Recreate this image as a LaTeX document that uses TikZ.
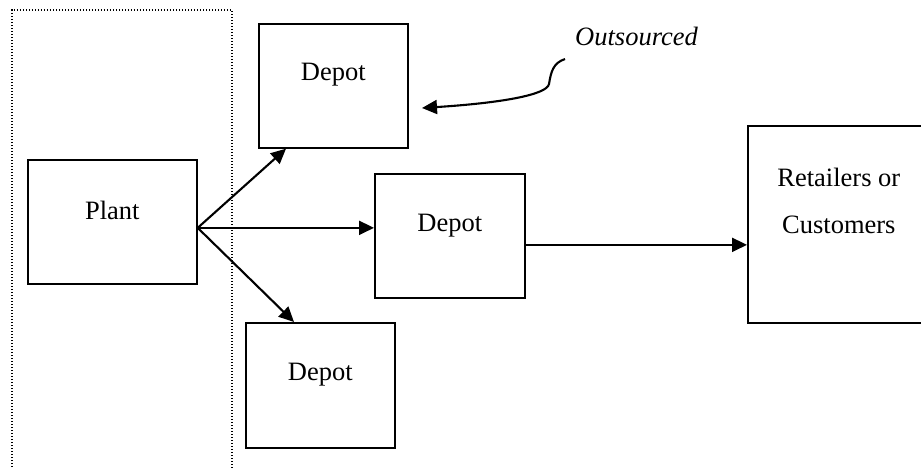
\documentclass[tikz,border=0pt]{standalone}
\usepackage{fontspec}
\setmainfont{Liberation Serif}
\usetikzlibrary{arrows.meta,calc}
\begin{document}
\begin{tikzpicture}[x=1pt,y=-1pt,
  box/.style={draw,line width=1.7pt,inner sep=0pt,anchor=north west},
  txt/.style={font=\fontsize{26.5}{32}\selectfont,inner sep=0pt},
  arr/.style={line width=2.1pt,-{Triangle[length=15pt,width=14pt]}}]
\useasboundingbox (0,0) rectangle (921,467);
\clip (0,0) rectangle (921,467);
\draw[line width=1.1pt,dash pattern=on 1.2pt off 1.8pt] (12,470) -- (12,10) -- (232,10) -- (232,470);
\node[box,minimum width=169pt,minimum height=124pt,
  label={[txt,name=plantt,anchor=base,yshift=11pt]center:Plant}] (plant) at (27,159) {};
\node[box,minimum width=149pt,minimum height=124pt,
  label={[txt,name=d1t,anchor=base,yshift=11pt]center:Depot}] (d1) at (258,23) {};
\node[box,minimum width=150pt,minimum height=124pt,
  label={[txt,name=d2t,anchor=base,yshift=10pt]center:Depot}] (d2) at (374,173) {};
\node[box,minimum width=149pt,minimum height=125pt,
  label={[txt,name=d3t,anchor=base,yshift=11pt]center:Depot}] (d3) at (245,322) {};
\node[box,minimum width=182pt,minimum height=197pt,
  label={[txt,name=rt1,anchor=base,yshift=47pt]center:Retailers or},
  label={[txt,name=rt2,anchor=base,yshift=0pt]center:Customers}] (r) at (747,125) {};
\coordinate (o) at ([yshift=-6pt]plant.east);
\draw[arr] (o) -- ([xshift=28pt]d1.south west);
\draw[arr] (o) -- (o -| d2.west);
\draw[arr] (o) -- ([xshift=49pt]d3.north west);
\draw[arr] ([yshift=-9pt]d2.east) -- ([yshift=-9pt]d2.east -| r.west);
\node[txt,font=\fontsize{26.5}{32}\selectfont\itshape,anchor=base west] (out) at (575,45) {Outsourced};
\coordinate (cs) at (565,59);
\coordinate (ot) at (422,108);
\draw[arr] (cs) .. controls (553,63) and (551,72) .. (549,84) .. controls (547,95) and (500,103) .. (ot);
\end{tikzpicture}
\end{document}
